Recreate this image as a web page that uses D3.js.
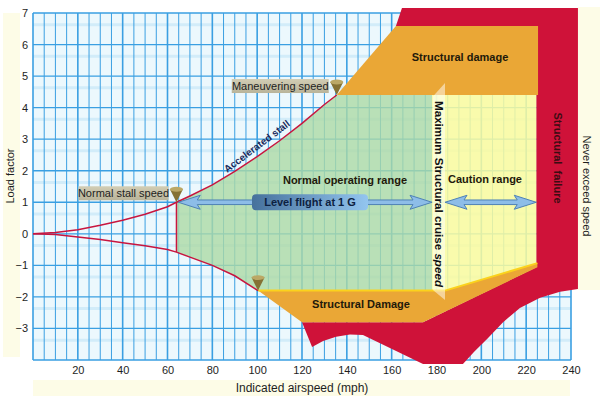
<!DOCTYPE html>
<html lang="en">
<head>
<meta charset="UTF-8">
<title>V-g diagram</title>
<script src="https://d3js.org/d3.v7.min.js"></script>
<style>
  body { margin: 0; background: #fff; }
  text { font-family: "Liberation Sans", Arial, sans-serif; }
  .lbl { font-size: 11px; fill: #1e1e1e; }
  .zone { font-size: 11px; font-weight: bold; fill: #22190a; }
  .tick text { font-size: 11px; fill: #1e1e1e; font-family: "Liberation Sans", Arial, sans-serif; }
</style>
</head>
<body>
<svg id="chart" width="600" height="399"></svg>
<script>
// axis ticks
const xTicks = [20, 40, 60, 80, 100, 120, 140, 160, 180, 200, 220, 240];
const yTicks = [7, 6, 5, 4, 3, 2, 1, 0, -1, -2, -3];

// stall lines [mph, g]
const posStall = [[0,0],[10,0.04],[20,0.13],[30,0.27],[40,0.43],[50,0.62],[60,0.86],[64,1],
  [70,1.2],[80,1.55],[90,1.98],[100,2.45],[110,2.95],[120,3.5],[130,4.1],[135.5,4.4]];
const negStall = [[0,0],[10,-0.02],[20,-0.1],[30,-0.18],[40,-0.28],[50,-0.38],[60,-0.5],[64,-0.58],
  [70,-0.74],[80,-1.0],[90,-1.33],[100.4,-1.8]];

// zones [mph, g]
const failureZone = [[164.6,7.16],[243.1,7.16],[243.1,-1.75],[235.1,-1.84],[226.2,-2.03],[217.2,-2.35],
  [209.7,-2.8],[203,-3.3],[196.7,-3.75],[191.8,-4.13],[174,-4.13],[147.2,-3.21],[141.4,-3.19],
  [135.2,-3.26],[129.4,-3.4],[124.5,-3.59],[120,-2.8],[174,-2.8],[224.5,-1.06],[224.5,6.59],[161.9,6.59]];
const damageTop = [[135.5,4.4],[161.9,6.59],[225.3,6.59],[225.3,4.4]];
const damageBottom = [[100.4,-1.8],[183.8,-1.8],[225,-0.93],[225,-1.06],[174,-2.8],[120,-2.8]];
const cautionZone = [[178,4.4],[224.5,4.4],[224.5,-0.93],[183.8,-1.8],[178,-1.8]];
const cruiseBand = [[178.4,4.35],[183.8,4.78],[183.8,-2.1],[178.4,-1.78]];
const cruiseSpeed = 178;
const stallSpeed = 64;

const svg = d3.select("#chart");
const x = d3.scaleLinear().domain([0, 240]).range([33, 571]);
const y = d3.scaleLinear().domain([-4, 7]).range([360, 13]);
const line = d3.line().x(d => x(d[0])).y(d => y(d[1]));

const defs = svg.append("defs");
const g1 = defs.append("linearGradient").attr("id", "boxGrad");
g1.append("stop").attr("offset", "0%").attr("stop-color", "#46719c");
g1.append("stop").attr("offset", "100%").attr("stop-color", "#93c5ef");
const g2 = defs.append("linearGradient").attr("id", "tagGrad").attr("x2", 0).attr("y2", 1);
g2.append("stop").attr("offset", "0%").attr("stop-color", "#d2cdb4");
g2.append("stop").attr("offset", "100%").attr("stop-color", "#b9b49a");

// pale label panels
svg.append("rect").attr("x", 3).attr("y", 13).attr("width", 17).attr("height", 344).attr("fill", "#fdfce7");
svg.append("rect").attr("x", 33).attr("y", 380).attr("width", 537).attr("height", 16).attr("fill", "#fdfce7");
svg.append("rect").attr("x", 578).attr("y", 7).attr("width", 22).attr("height", 283).attr("fill", "#fdfce7");

// grid
svg.append("rect").attr("x", x(0)).attr("y", y(7)).attr("width", x(240) - x(0)).attr("height", y(-4) - y(7))
  .attr("fill", "#ecf8fd");
const grid = svg.append("g");
grid.selectAll(".hs").data(d3.range(-4, 7, 1).map(d => d + 0.63)).join("line")
  .attr("x1", x(0)).attr("x2", x(240)).attr("y1", d => y(d)).attr("y2", d => y(d))
  .attr("stroke", "#d2ecf9").attr("stroke-width", 3);
grid.selectAll(".v").data(x.ticks(60)).join("line")
  .attr("x1", d => x(d)).attr("x2", d => x(d)).attr("y1", y(7)).attr("y2", y(-4))
  .attr("stroke", "#3a9fe2").attr("stroke-width", d => d % 20 === 0 ? 1.6 : 1);
grid.selectAll(".h").data(y.ticks(11)).join("line")
  .attr("x1", x(0)).attr("x2", x(240)).attr("y1", d => y(d)).attr("y2", d => y(d))
  .attr("stroke", "#3a9fe2").attr("stroke-width", 1.3);

// zones
svg.append("path").attr("d", line(failureZone) + "Z").attr("fill", "#cf1239");
const greenZone = posStall.filter(d => d[0] >= stallSpeed)
  .concat([[cruiseSpeed, 4.4], [cruiseSpeed, -1.8]])
  .concat(negStall.filter(d => d[0] >= stallSpeed).reverse());
svg.append("path").attr("d", line(greenZone) + "Z").attr("fill", "#acdaa5").attr("fill-opacity", 0.8);
svg.append("path").attr("d", line(cautionZone) + "Z").attr("fill", "#fcfb9e").attr("fill-opacity", 0.85);
svg.append("path").attr("d", line(damageTop) + "Z").attr("fill", "#eaa736");
svg.append("path").attr("d", line(damageBottom) + "Z").attr("fill", "#eaa736");
svg.append("path").attr("d", line(damageBottom.slice(0, 3))).attr("fill", "none")
  .attr("stroke", "#fbd21c").attr("stroke-width", 2);
svg.append("path").attr("d", line(cruiseBand) + "Z").attr("fill", "#ffffff").attr("fill-opacity", 0.5);

// stall lines
svg.append("path").attr("d", line(posStall)).attr("fill", "none").attr("stroke", "#c8153f").attr("stroke-width", 1.5);
svg.append("path").attr("d", line(negStall)).attr("fill", "none").attr("stroke", "#c8153f").attr("stroke-width", 1.5);
svg.append("line").attr("x1", x(stallSpeed)).attr("x2", x(stallSpeed)).attr("y1", y(1)).attr("y2", y(-0.58))
  .attr("stroke", "#c8153f").attr("stroke-width", 1.5);

// axes
const xAxis = svg.append("g").attr("transform", "translate(0," + y(-4) + ")")
  .call(d3.axisBottom(x).tickValues(xTicks).tickSize(0).tickPadding(6));
xAxis.select(".domain").remove();
const yAxis = svg.append("g").attr("transform", "translate(" + x(0) + ",0)")
  .call(d3.axisLeft(y).tickValues(yTicks).tickSize(0).tickPadding(5));
yAxis.select(".domain").remove();

svg.append("text").attr("class", "lbl").attr("x", 302).attr("y", 392).attr("text-anchor", "middle")
  .style("font-size", "12px").text("Indicated airspeed (mph)");
svg.append("text").attr("class", "lbl").attr("text-anchor", "middle")
  .attr("transform", "translate(14,176) rotate(-90)").text("Load factor");
svg.append("text").attr("class", "lbl").attr("text-anchor", "middle")
  .attr("transform", "translate(583,186) rotate(90)").text("Never exceed speed");

// zone labels
const zoneText = (t, px, py) => svg.append("text").attr("class", "zone").attr("x", px).attr("y", py)
  .attr("text-anchor", "middle").text(t);
zoneText("Structural damage", 460, 61);
zoneText("Structural Damage", 361, 308);
zoneText("Normal operating range", 345, 184);
zoneText("Caution range", 485, 183);
svg.append("text").attr("class", "zone").attr("text-anchor", "middle").style("fill", "#3b0c12")
  .attr("transform", "translate(554,158) rotate(90)").text("Structural\u00a0\u00a0failure");
const cr = svg.append("text").attr("class", "zone").attr("text-anchor", "middle").style("fill", "#111")
  .attr("textLength", 186).attr("lengthAdjust", "spacingAndGlyphs")
  .attr("transform", "translate(434.5,194) rotate(90)");
cr.append("tspan").text("Maximum Structural cruise ");
cr.append("tspan").style("font-style", "italic").text("speed");
svg.append("text").attr("class", "zone").attr("text-anchor", "middle").style("fill", "#1b2b5c").style("font-size", "10px")
  .attr("transform", "translate(259,149) rotate(-37)").text("Accelerated stall");

// level flight arrows
function arrow(v0, v1, n) {
  const x0 = x(v0), x1 = x(v1), yy = y(n), hl = 22, hh = 7, sh = 2.3;
  const p = d3.path();
  p.moveTo(x0, yy); p.lineTo(x0 + hl, yy - hh); p.lineTo(x0 + hl - 3, yy - sh);
  p.lineTo(x1 - hl + 3, yy - sh); p.lineTo(x1 - hl, yy - hh); p.lineTo(x1, yy);
  p.lineTo(x1 - hl, yy + hh); p.lineTo(x1 - hl + 3, yy + sh); p.lineTo(x0 + hl - 3, yy + sh);
  p.lineTo(x0 + hl, yy + hh); p.closePath();
  svg.append("path").attr("d", p.toString()).attr("fill", "#8dbde8").attr("stroke", "#4f82b5").attr("stroke-width", 1);
}
arrow(stallSpeed + 0.8, cruiseSpeed, 1);
arrow(183.8, 224.5, 1);
svg.append("rect").attr("x", 252).attr("y", y(1) - 8).attr("width", 116).attr("height", 16).attr("rx", 4)
  .attr("fill", "url(#boxGrad)");
svg.append("text").attr("class", "zone").attr("x", 310).attr("y", y(1) + 4).attr("text-anchor", "middle")
  .style("fill", "#0d2141").text("Level flight at 1 G");

// speed tags and cone markers
function tag(t, v, n, w) {
  const ax = x(v), ay = y(n);
  svg.append("rect").attr("x", ax - 8 - w).attr("y", ay - 16).attr("width", w).attr("height", 14)
    .attr("fill", "url(#tagGrad)");
  svg.append("text").attr("class", "lbl").attr("x", ax - 8 - w / 2).attr("y", ay - 5).attr("text-anchor", "middle").text(t);
}
function cone(v, n) {
  const ax = x(v), ay = y(n);
  svg.append("path").attr("d", `M${ax - 6.5},${ay - 13} L${ax + 6.5},${ay - 13} L${ax},${ay} Z`).attr("fill", "#857234");
  svg.append("ellipse").attr("cx", ax).attr("cy", ay - 13).attr("rx", 6.5).attr("ry", 2.4).attr("fill", "#bba866");
}
tag("Normal stall speed", stallSpeed, 1, 90);
tag("Maneuvering speed", 135.5, 4.4, 97);
cone(stallSpeed, 1);
cone(135.5, 4.4);
cone(100.4, -1.8);
</script>
</body>
</html>
